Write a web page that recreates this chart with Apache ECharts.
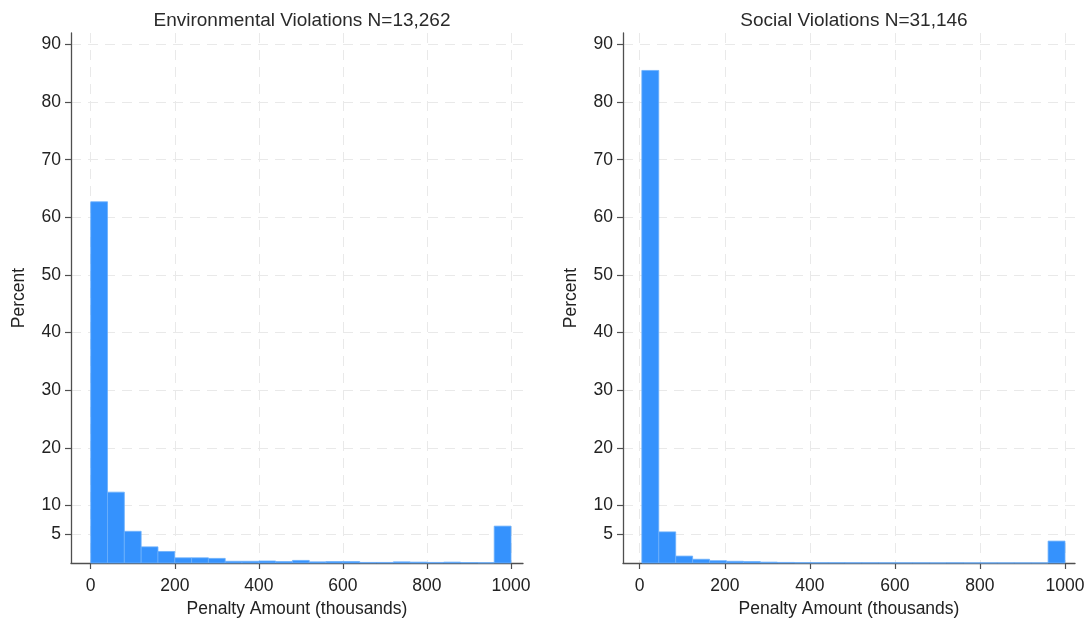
<!DOCTYPE html>
<html>
<head>
<meta charset="utf-8">
<title>Penalty Amount Histograms</title>
<script src="https://cdn.jsdelivr.net/npm/echarts@6/dist/echarts.min.js"></script>
<style>
  html, body { margin: 0; padding: 0; background: #ffffff; }
  #chart { width: 1091px; height: 623px; }
</style>
</head>
<body>
<div id="chart"></div>
<script>
// Panel titles
const envTitle = 'Environmental Violations N=13,262';
const socTitle = 'Social Violations N=31,146';

// Histogram bins (thousands): first lower edge and bin width
const envBinStart = 0;
const envBinWidth = 40;
const socBinStart = 5;
const socBinWidth = 39.8;

// Percent of violations in each of the 25 bins
const envPercent = [62.7, 12.3, 5.5, 2.8, 2.0, 0.9, 0.9, 0.8, 0.3, 0.3,
                    0.35, 0.25, 0.45, 0.2, 0.25, 0.25, 0.1, 0.1, 0.2, 0.15,
                    0.1, 0.15, 0.08, 0.05, 6.4];
const socPercent = [85.5, 5.4, 1.2, 0.65, 0.4, 0.3, 0.25, 0.15, 0.1, 0.06,
                    0.05, 0.05, 0.04, 0.04, 0.03, 0.03, 0.03, 0.02, 0.03, 0.02,
                    0.02, 0.02, 0.02, 0.02, 3.8];

// Axis tick labels
const xTicks = [0, 200, 400, 600, 800, 1000];
const yTicks = [5, 10, 20, 30, 40, 50, 60, 70, 80, 90];

const xAxisName = 'Penalty Amount (thousands)';
const yAxisName = 'Percent';

const FONT = '"Liberation Sans", Arial, sans-serif';
const BAR_FILL = '#3592fd';
const BAR_EDGE = '#6cb0fb';

function binRows(start, width, values) {
  return values.map((v, i) => [start + i * width, start + (i + 1) * width, v]);
}

function histSeries(idx, rows) {
  return {
    type: 'custom',
    xAxisIndex: idx,
    yAxisIndex: idx,
    data: rows,
    encode: { x: [0, 1], y: 2 },
    renderItem: function (params, api) {
      const top = api.coord([api.value(0), api.value(2)]);
      const bottom = api.coord([api.value(1), 0]);
      return {
        type: 'rect',
        shape: { x: top[0], y: top[1], width: bottom[0] - top[0], height: bottom[1] - top[1] },
        style: { fill: BAR_FILL, stroke: BAR_EDGE, lineWidth: 0.8 }
      };
    },
    z: 2
  };
}

const gridLine = { show: true, lineStyle: { color: '#e9e9e9', width: 1, type: [10, 7] } };
const axisLine = { show: true, onZero: false, lineStyle: { color: '#4f4f4f', width: 1.3 } };
const tickStyle = { color: '#4f4f4f', width: 1.2 };
const labelStyle = { color: '#222222', fontSize: 17.5, fontFamily: FONT };
const nameStyle = { color: '#222222', fontSize: 17.5, fontFamily: FONT };

function xAxisFor(idx, min, max) {
  return {
    type: 'value', gridIndex: idx, min: min, max: max,
    name: xAxisName, nameLocation: 'middle', nameGap: 37,
    nameTextStyle: nameStyle,
    axisLine: axisLine,
    axisTick: { show: true, length: 6, lineStyle: tickStyle, customValues: xTicks },
    axisLabel: Object.assign({ margin: 14, customValues: xTicks, formatter: v => String(v) }, labelStyle),
    splitLine: gridLine
  };
}

function yAxisFor(idx) {
  return {
    type: 'value', gridIndex: idx, min: 0, max: 92,
    name: yAxisName, nameLocation: 'middle', nameGap: 43, nameRotate: 90,
    nameTextStyle: nameStyle,
    axisLine: axisLine,
    axisTick: { show: true, length: 6, lineStyle: tickStyle, customValues: yTicks },
    axisLabel: Object.assign({ margin: 10, customValues: yTicks, formatter: v => String(v) }, labelStyle),
    splitLine: gridLine
  };
}

const titleStyle = { color: '#2a2a2a', fontSize: 19, fontWeight: 'normal', fontFamily: FONT };

const chart = echarts.init(document.getElementById('chart'), null, { renderer: 'canvas' });
chart.setOption({
  backgroundColor: '#ffffff',
  animation: false,
  title: [
    { text: envTitle, left: 297, top: 6, textAlign: 'center', textStyle: titleStyle },
    { text: socTitle, left: 849, top: 6, textAlign: 'center', textStyle: titleStyle }
  ],
  grid: [
    { left: 71, right: 568, top: 33, bottom: 59.5 },
    { left: 623, right: 16, top: 33, bottom: 59.5 }
  ],
  xAxis: [xAxisFor(0, -46.9, 1028.5), xAxisFor(1, -39.3, 1023.5)],
  yAxis: [yAxisFor(0), yAxisFor(1)],
  series: [
    histSeries(0, binRows(envBinStart, envBinWidth, envPercent)),
    histSeries(1, binRows(socBinStart, socBinWidth, socPercent))
  ]
});
</script>
</body>
</html>
